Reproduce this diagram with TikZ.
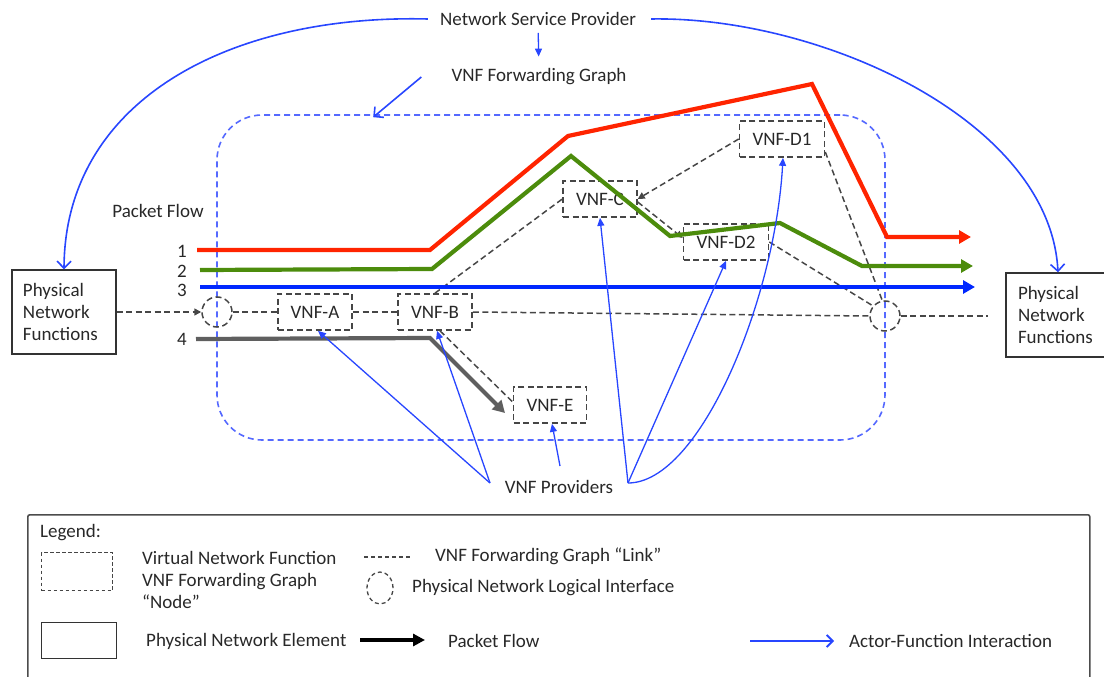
\documentclass[tikz,border=0pt]{standalone}
\usepackage{fontspec}
\setmainfont{Carlito}
\usetikzlibrary{arrows.meta,shapes.geometric}
\definecolor{redf}{RGB}{255,36,0}
\definecolor{greenf}{RGB}{76,140,12}
\definecolor{bluef}{RGB}{0,40,255}
\definecolor{grayf}{RGB}{95,95,95}
\definecolor{actor}{RGB}{40,70,255}
\definecolor{fgbox}{RGB}{85,105,255}
\definecolor{txtc}{RGB}{40,40,40}
\definecolor{linkc}{RGB}{70,70,70}
\begin{document}
\begin{tikzpicture}[x=1pt,y=-1pt,
  font=\fontsize{19}{22}\selectfont, text=txtc,
  lbl/.style={inner sep=0pt},
  vnf/.style={draw=linkc, dash pattern=on 6pt off 3.5pt, line width=1.7pt,
    minimum height=36pt, inner xsep=13pt, inner ysep=0pt},
  ifc/.style={circle, draw=linkc, dash pattern=on 6pt off 3.5pt, line width=1.5pt,
    minimum size=30pt, inner sep=0pt},
  pne/.style={draw=black!80, line width=1.4pt, align=left, inner ysep=0pt,
    minimum height=84pt},
  link/.style={draw=linkc, dash pattern=on 6pt off 3.5pt, line width=1.5pt},
  linktip/.style={-{Triangle[length=7pt,width=7pt]}},
  flow/.style={line width=4.2pt},
  ftip/.style={-{Triangle[length=12pt,width=13pt]}},
  act/.style={draw=actor, line width=1.3pt, -{Triangle[length=8pt,width=7pt]}},
  actbig/.style={draw=actor, line width=1.6pt, -{Straight Barb[length=7pt,width=14pt]}},
  fgrect/.style={draw=fgbox, dash pattern=on 6pt off 4pt, line width=1.6pt,
    rounded corners=45pt, inner sep=0pt},
]
\useasboundingbox (0,0) rectangle (1104,677);

% forwarding graph frame
\node[fgrect, minimum width=668pt, minimum height=325pt] (fgr) at (551,277.5) {};

% top texts
\node[lbl] (nsp) at (538,19) {Network Service Provider};
\node[lbl] (fg) at (539,77) {VNF Forwarding Graph};
\node[lbl] (pf) at (158,211) {Packet Flow};

% physical network functions
\node[pne, text width=82pt, inner xsep=11pt] (pnfL) at (64,312) {Physical\\Network\\Functions};
\node[pne, text width=80pt, inner xsep=12pt] (pnfR) at (1058,315) {Physical\\Network\\Functions};

% flow labels
\node[lbl] (n1) at (182,251) {1};
\node[lbl] (n2) at (182,271) {2};
\node[lbl] (n3) at (182,290) {3};
\node[lbl] (n4) at (182,339) {4};

% interfaces
\node[ifc] (ifL) at (217,312) {};
\node[ifc] (ifR) at (885,316) {};
\coordinate (endR) at (988,316);

% VNFs
\node[vnf] (vA) at (315,312) {VNF-A};
\node[vnf] (vB) at (435,312) {VNF-B};
\node[vnf] (vC) at (600,199) {VNF-C};
\node[vnf] (vD1) at (782,139) {VNF-D1};
\node[vnf] (vD2) at (726,242) {VNF-D2};
\node[vnf] (vE) at (550,405) {VNF-E};

% forwarding graph links
\draw[link, linktip] (pnfL.east) -- (ifL.west);
\draw[link] (ifL.east) -- (vA.west);
\draw[link] (vA.east) -- (vB.west);
\draw[link] (vB.east) -- (ifR.west);
\draw[link] (ifR.east) -- (endR);
\draw[link] (vB.north) -- (vC.west);
\draw[link, linktip] (vD1.west) -- (vC.east);
\draw[link, linktip] ([yshift=-3pt]vC.east) -- ([yshift=4pt]vD2.west);
\draw[link] (vD2.east) -- (ifR.140);
\draw[link] ([yshift=-13pt]vD1.east) -- (ifR.100);
\draw[link] ([xshift=5pt]vB.south) -- ([yshift=3pt]vE.west);

% packet flows
\draw[flow, redf, ftip] (197,250) -- (430,250) -- (568,136) -- (812,84) -- (887,237) -- (971,237);
\draw[flow, greenf, ftip] (200,270) -- (432,269) -- (571,156) -- (670,236) -- (780,223) -- (862,266) -- (973,266);
\draw[flow, bluef, ftip] (200,287) -- (975,287);
\draw[flow, grayf, ftip] (196,339) -- (430,338) -- (505,413);

% actor interactions
\draw[actbig] ([xshift=-12pt]nsp.west) .. controls (230,14) and (65,100) .. (pnfL.north);
\draw[actbig] ([xshift=15pt]nsp.east) .. controls (820,16) and (1050,120) .. (pnfR.north);
\draw[act, shorten <=7pt, shorten >=12pt] (nsp) -- (fg);
\draw[actbig] ([xshift=-30pt]fg.west) -- ([xshift=157pt,yshift=-3pt]fgr.north west);

\node[lbl] (prov) at (559,487) {VNF Providers};
\coordinate (pl) at (490,483);
\coordinate (pm) at (560,466);
\coordinate (pr) at (628,483);
\draw[act] (pl) -- ([xshift=3pt]vA.south);
\draw[act] (pl) -- ([xshift=2pt]vB.south);
\draw[act] (pm) -- ([xshift=2pt]vE.south);
\draw[act] (pr) -- (vC.south);
\draw[act] (pr) -- (vD2.south);
\draw[act] (pr) .. controls (700,483) and (775,300) .. ([xshift=1pt]vD1.south);

% legend
\node[draw=black!70, line width=1.6pt, rounded corners=2pt, minimum width=1062pt,
  minimum height=200pt, anchor=north west] (leg) at (27,514) {};
\node[lbl, anchor=west] (lg) at (40,533) {Legend:};
\node[draw=linkc, dash pattern=on 3.5pt off 2.5pt, line width=1.3pt, minimum width=71pt,
  minimum height=38pt, anchor=north west] (lgv) at (41,552) {};
\node[lbl, anchor=west, align=left] (lgvt) at (142,580) {Virtual Network Function\\VNF Forwarding Graph\\“Node”};
\coordinate (lk1) at (364,557);
\coordinate (lk2) at (412,557);
\draw[link, dash pattern=on 4pt off 3pt, line width=1.3pt] (lk1) -- (lk2);
\node[lbl, anchor=west] (lkt) at (435,556) {VNF Forwarding Graph “Link”};
\node[ellipse, draw=linkc, dash pattern=on 4pt off 3pt, line width=1.3pt,
  minimum width=26pt, minimum height=32pt] (lgi) at (380,588) {};
\node[lbl, anchor=west] (lgit) at (412,588) {Physical Network Logical Interface};
\node[draw=black!80, line width=1.4pt, minimum width=75pt, minimum height=36pt,
  anchor=north west] (lgp) at (41,622) {};
\node[lbl, anchor=west] (lgpt) at (146,641) {Physical Network Element};
\coordinate (bk1) at (360,640);
\coordinate (bk2) at (425,640);
\draw[line width=3.4pt, -{Triangle[length=12pt,width=12pt]}] (bk1) -- (bk2);
\node[lbl, anchor=west] (lgft) at (448,641) {Packet Flow};
\coordinate (ba1) at (750,641);
\coordinate (ba2) at (834,641);
\draw[draw=actor, line width=1.8pt, -{Straight Barb[length=6pt,width=12pt]}] (ba1) -- (ba2);
\node[lbl, anchor=west] (lgat) at (849,641) {Actor-Function Interaction};
\end{tikzpicture}
\end{document}
